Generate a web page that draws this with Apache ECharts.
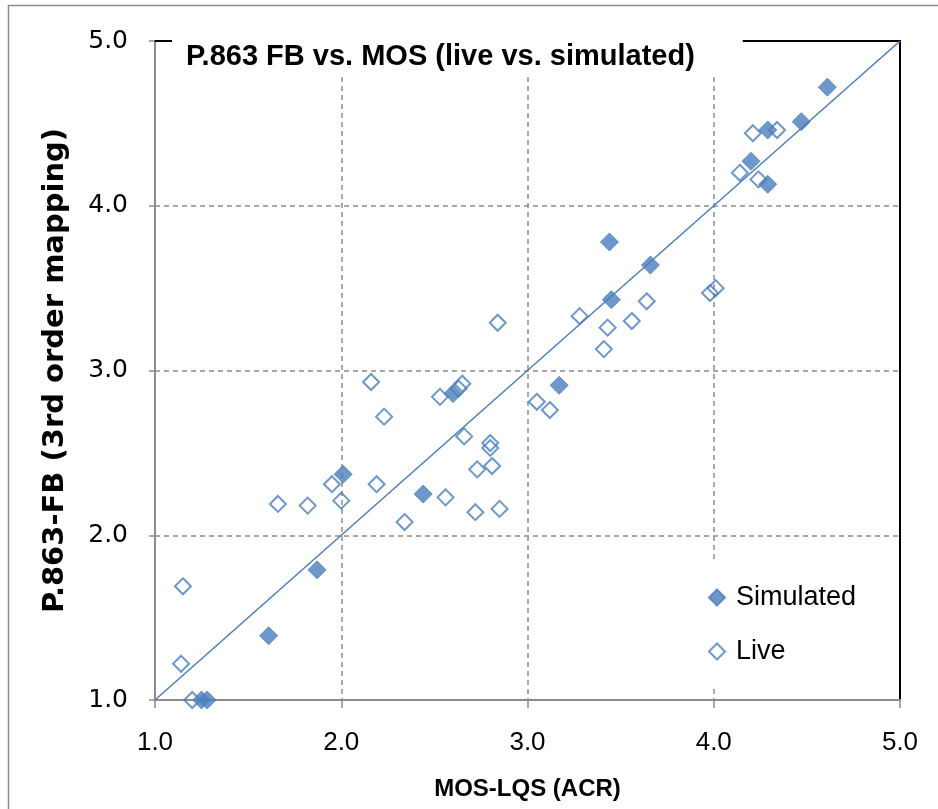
<!DOCTYPE html>
<html><head><meta charset="utf-8">
<script src="https://cdn.jsdelivr.net/npm/echarts@6/dist/echarts.min.js"></script>
<style>html,body{margin:0;padding:0;background:#fff}#c{width:938px;height:809px}</style>
</head><body><div id="c"></div>
<script>
const xTicks = [1.0, 2.0, 3.0, 4.0, 5.0];
const yTicks = [1.0, 2.0, 3.0, 4.0, 5.0];
const simulatedMOS = [4.61,4.47,4.29,4.20,4.29,3.44,3.66,3.45,3.17,2.60,2.01,2.44,1.87,1.61,1.25,1.28];
const simulatedP863 = [4.72,4.51,4.46,4.27,4.13,3.78,3.64,3.43,2.91,2.86,2.37,2.25,1.79,1.39,1.00,1.00];
const liveMOS = [4.21,4.34,4.14,4.24,4.01,3.98,3.28,3.64,3.43,3.56,3.41,2.84,2.16,2.53,2.63,2.65,2.23,3.05,3.12,2.66,2.80,2.80,2.73,2.81,1.95,2.19,2.00,1.66,1.82,2.56,2.34,2.72,2.85,1.15,1.14,1.20];
const liveP863 = [4.44,4.46,4.20,4.16,3.50,3.47,3.33,3.42,3.26,3.30,3.13,3.29,2.93,2.84,2.89,2.92,2.72,2.81,2.76,2.60,2.56,2.53,2.40,2.42,2.31,2.31,2.21,2.19,2.18,2.23,2.08,2.14,2.16,1.69,1.22,1.00];
const refLineX = [1.0, 5.0];
const refLineY = [1.0, 5.0];

const blue = '#4A7EBB';
const zip = (a, b) => a.map((v, i) => [v, b[i]]);
const chart = echarts.init(document.getElementById('c'), null, {renderer: 'canvas'});
chart.setOption({
  animation: false,
  backgroundColor: '#fff',
  graphic: [{type: 'rect', shape: {x: 8.5, y: 5.5, width: 1200, height: 1200}, style: {fill: 'none', stroke: '#8c8c8c', lineWidth: 1.5}, z: -10}],
  title: {
    text: 'P.863 FB vs. MOS (live vs. simulated)',
    left: 172, top: 38,
    padding: [4, 48, 4, 14],
    backgroundColor: '#fff',
    textStyle: {fontFamily: 'Liberation Sans', fontWeight: 'bold', fontSize: 29, color: '#000'}
  },
  legend: {
    orient: 'vertical', left: 700, top: 563,
    padding: [21, 10, 22, 8],
    backgroundColor: '#fff',
    itemWidth: 16, itemHeight: 16, itemGap: 27,
    data: ['Simulated', 'Live'],
    textStyle: {fontFamily: 'Liberation Sans', fontSize: 27, color: '#000', padding: [0, 0, 0, 6]}
  },
  grid: {left: 155, right: 38, top: 41, bottom: 109, containLabel: false},
  xAxis: [{
    type: 'value', min: 1, max: 5, interval: 1,
    name: 'MOS-LQS (ACR)', nameLocation: 'middle', nameGap: 77,
    nameTextStyle: {fontFamily: 'Liberation Sans', fontWeight: 'bold', fontSize: 24, color: '#000'},
    axisLine: {show: true, lineStyle: {color: '#8c8c8c', width: 2}},
    axisTick: {show: true, length: 8, inside: false, lineStyle: {color: '#8c8c8c', width: 1.5}},
    axisLabel: {margin: 30, fontFamily: 'Liberation Sans', fontSize: 26, color: '#000', formatter: v => xTicks.includes(v) ? v.toFixed(1) : ''},
    splitLine: {show: true, lineStyle: {color: '#8c8c8c', width: 1.5, type: [5, 4]}}
  }, {
    type: 'value', min: 1, max: 5, position: 'top',
    axisLine: {show: true, lineStyle: {color: '#000', width: 2}},
    axisTick: {show: false}, axisLabel: {show: false}, splitLine: {show: false}
  }],
  yAxis: [{
    type: 'value', min: 1, max: 5, interval: 1,
    name: 'P.863-FB (3rd order mapping)', nameLocation: 'middle', nameGap: 85,
    nameTextStyle: {fontFamily: 'DejaVu Sans', fontWeight: 'bold', fontSize: 29, color: '#000'},
    axisLine: {show: true, lineStyle: {color: '#8c8c8c', width: 2}},
    axisTick: {show: true, length: 6, inside: false, lineStyle: {color: '#8c8c8c', width: 1.5}},
    axisLabel: {margin: 27, fontFamily: 'DejaVu Sans', fontSize: 25, color: '#000', formatter: v => yTicks.includes(v) ? v.toFixed(1) : ''},
    splitLine: {show: true, lineStyle: {color: '#8c8c8c', width: 1.5, type: [5, 4]}}
  }, {
    type: 'value', min: 1, max: 5, position: 'right',
    axisLine: {show: true, lineStyle: {color: '#000', width: 2}},
    axisTick: {show: false}, axisLabel: {show: false}, splitLine: {show: false}
  }],
  series: [{
    name: 'ref', type: 'line', data: zip(refLineX, refLineY), symbol: 'none',
    lineStyle: {color: blue, width: 1.5}, z: 1, silent: true
  }, {
    name: 'Simulated', type: 'scatter', data: zip(simulatedMOS, simulatedP863),
    symbol: 'diamond', symbolSize: 18, clip: false,
    itemStyle: {color: blue, borderColor: blue, borderWidth: 1}, z: 3
  }, {
    name: 'Live', type: 'scatter', data: zip(liveMOS, liveP863),
    symbol: 'diamond', symbolSize: 16, clip: false,
    itemStyle: {color: 'rgba(255,255,255,0)', borderColor: blue, borderWidth: 2}, z: 4
  }]
});
</script></body></html>
